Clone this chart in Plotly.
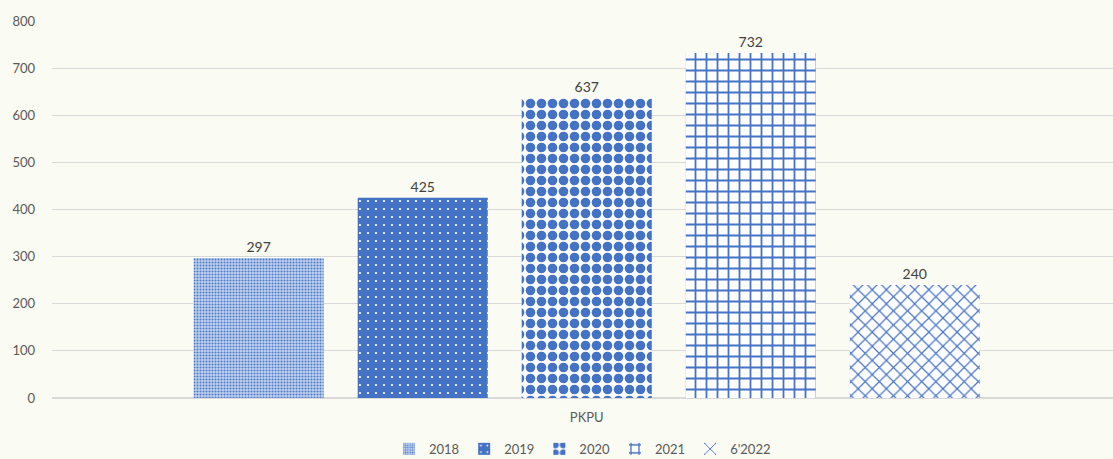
import plotly.graph_objects as go

categories = ["PKPU"]
series_names = ["2018", "2019", "2020", "2021", "6'2022"]
values = [297, 425, 637, 732, 240]
y_ticks = [0, 100, 200, 300, 400, 500, 600, 700, 800]

blue = "#4472C4"
patterns = [
    dict(shape=".", fgcolor=blue, bgcolor="#C2D2EE", size=3, solidity=0.4, fillmode="overlay", fgopacity=0.9),
    dict(shape=".", fgcolor="#FFFFFF", bgcolor=blue, size=8, solidity=0.06, fillmode="overlay", fgopacity=1),
    dict(shape=".", fgcolor=blue, bgcolor="#FFFFFF", size=11, solidity=0.6, fillmode="overlay", fgopacity=1),
    dict(shape="+", fgcolor=blue, bgcolor="#FFFFFF", size=11, solidity=0.3, fillmode="overlay", fgopacity=1),
    dict(shape="x", fgcolor=blue, bgcolor="#FFFFFF", size=10, solidity=0.22, fillmode="overlay", fgopacity=1),
]

fig = go.Figure()
for name, val, pat in zip(series_names, values, patterns):
    fig.add_trace(go.Bar(
        x=categories, y=[val], name=name,
        marker=dict(color=pat["bgcolor"], pattern=pat, line=dict(width=0)),
        text=[str(val)], textposition="outside",
        textfont=dict(color="#404040", size=14, family="Lato"),
        cliponaxis=False,
    ))

fig.update_layout(
    width=1113, height=459,
    margin=dict(l=52, r=0, t=21, b=61, autoexpand=False),
    paper_bgcolor="#FAFBF3", plot_bgcolor="#FAFBF3",
    barmode="group", bargap=0.227, bargroupgap=0.207,
    font=dict(family="Lato", color="#595959", size=13),
    legend=dict(orientation="h", x=0.50, xanchor="center", y=-0.135, yanchor="middle",
                font=dict(size=13, color="#595959"), itemwidth=30,
                traceorder="normal", tracegroupgap=0),
    showlegend=True,
)
fig.update_xaxes(range=[-0.504, 0.496], showgrid=False, showline=False, ticks="",
                 ticklabelstandoff=10, tickfont=dict(size=13, color="#595959"))
fig.update_yaxes(range=[0, 800], tickvals=y_ticks, showgrid=True, gridcolor="#D9D9D9",
                 gridwidth=1, zeroline=True, zerolinecolor="#D9D9D9", showline=False,
                 ticks="", ticklabelstandoff=16, tickfont=dict(size=13, color="#595959"))

fig.write_html("out.html")
